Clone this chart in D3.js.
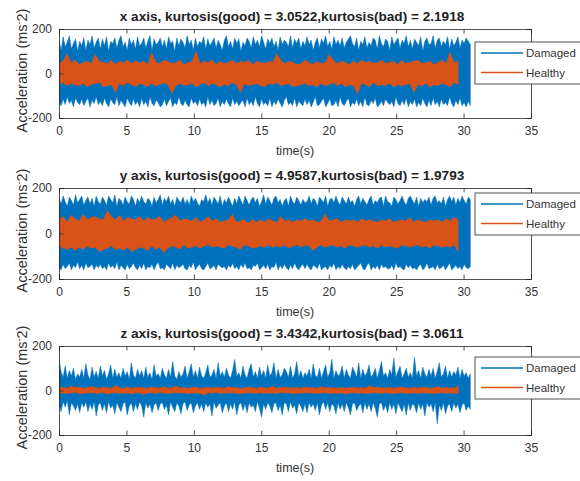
<!DOCTYPE html>
<html><head><meta charset="utf-8">
<script src="https://cdn.jsdelivr.net/npm/d3@7"></script>
<style>body{margin:0;background:#fff}svg{display:block}text{font-family:"Liberation Sans",Arial,sans-serif}</style>
</head><body><svg id="c" width="580" height="481"></svg>
<script>
// ---------- data ----------
// Each signal array lists successive (peak, trough) pairs of the dense vibration trace.
const titles = [
  "x axis, kurtosis(good) = 3.0522,kurtosis(bad) = 2.1918",
  "y axis, kurtosis(good) = 4.9587,kurtosis(bad) = 1.9793",
  "z axis, kurtosis(good) = 3.4342,kurtosis(bad) = 3.0611"
];
const seriesNames = ["Damaged", "Healthy"];
const xTicks = [0, 5, 10, 15, 20, 25, 30, 35];
const yTicks = [-200, 0, 200];
const damagedDuration = 30.5;   // s
const healthyDuration = 29.6;   // s

const damagedX = [
150,-130,105,-145,165,-115,120,-140,140,-105,170,-135,110,-120,135,-150,155,-110,100,-130,
145,-140,125,-115,160,-145,105,-125,150,-110,130,-150,170,-120,115,-135,140,-105,160,-140,
110,-125,155,-145,125,-110,165,-135,100,-150,145,-115,135,-130,160,-140,115,-105,150,-145,
170,-120,120,-135,140,-150,105,-110,160,-130,130,-145,150,-115,110,-140,165,-125,125,-150,
135,-110,160,-140,115,-125,145,-150,170,-105,105,-135,155,-145,130,-120,140,-130,160,-150,
120,-140,150,-115,110,-145,165,-125,135,-110,145,-150,100,-130,160,-140,125,-105,155,-135,
140,-145,115,-120,170,-140,130,-150,150,-110,105,-135,160,-125,120,-145,145,-115,135,-140,
165,-130,110,-150,155,-105,125,-140,140,-120,160,-145,115,-135,150,-110,130,-150,105,-125,
150,-140,170,-115,120,-135,145,-150,110,-110,160,-140,135,-125,155,-145,100,-130,140,-120,
125,-150,160,-110,145,-140,115,-125,165,-145,130,-105,150,-135,120,-150,170,-115,140,-140,
110,-130,155,-145,135,-110,160,-150,120,-125,145,-140,105,-115,165,-135,130,-150,150,-120,
140,-105,120,-140,170,-130,115,-145,155,-110,135,-150,160,-125,110,-135,145,-145,125,-115,
165,-140,130,-120,150,-150,105,-130,140,-105,160,-145,115,-140,155,-125,135,-110,170,-150,
120,-135,145,-115,110,-145,165,-140,130,-120,150,-150,125,-105,160,-135,115,-145,140,-125,
155,-110,170,-150,135,-130,120,-140,160,-115,105,-145,145,-125,130,-150,165,-105,115,-140,
140,-145,125,-120,160,-135,150,-110,110,-150,170,-140,135,-125,120,-145,155,-115,145,-130,
105,-140,165,-125,130,-150,145,-105,160,-135,115,-145,150,-120,135,-140,170,-110,120,-150,
150,-125,110,-140,155,-115,140,-150,125,-130,165,-145,100,-110,145,-135,160,-150,130,-120,
135,-145,170,-110,115,-140,150,-125,160,-150,120,-115,145,-140,130,-130,165,-145,110,-105,
155,-135,125,-150,140,-120,165,-140,115,-110,150,-145,135,-130,160,-150,145,-125,130,-145];

const healthyX = [45,-50,55,-40,90,-55,50,-45,60,-50,40,-55,50,-45,55,-60,45,-50,85,-45,
55,-40,50,-60,45,-55,60,-50,40,-85,55,-45,50,-55,60,-40,45,-50,55,-60,
50,-45,55,-50,40,-60,95,-45,50,-55,45,-50,60,-40,55,-50,45,-90,50,-55,
60,-45,40,-55,50,-50,55,-45,100,-60,45,-50,55,-40,50,-55,60,-45,40,-50,
55,-60,45,-50,50,-55,60,-40,45,-50,55,-85,50,-45,60,-55,40,-50,55,-45,
50,-55,45,-60,55,-45,50,-50,90,-40,60,-55,45,-50,55,-45,50,-60,40,-55,
45,-50,60,-45,50,-55,40,-50,55,-60,45,-45,50,-55,85,-50,60,-40,45,-55,
55,-45,50,-60,40,-50,55,-55,45,-90,60,-45,50,-50,55,-60,45,-40,50,-55,
60,-50,45,-55,50,-45,55,-60,40,-50,60,-55,45,-50,50,-45,55,-85,60,-50,
45,-55,50,-45,55,-60,40,-50,50,-55,60,-45,45,-50,95,-60,50,-40,55,-50];

const damagedY = [
155,-150,130,-160,165,-135,140,-155,120,-145,160,-130,145,-160,125,-140,170,-150,135,-125,
150,-155,165,-140,125,-160,145,-130,160,-150,130,-145,155,-135,120,-160,165,-140,140,-150,
130,-135,160,-155,145,-145,125,-160,165,-130,150,-150,135,-140,170,-155,120,-125,155,-160,
145,-140,125,-150,160,-160,140,-135,130,-155,165,-145,150,-130,120,-150,155,-160,135,-140,
165,-155,140,-130,130,-160,155,-145,145,-150,120,-135,160,-160,135,-140,150,-125,170,-155,
125,-150,155,-160,140,-135,165,-145,130,-155,150,-130,120,-160,160,-140,145,-150,135,-145,
160,-135,130,-155,150,-160,125,-140,165,-150,140,-125,155,-160,135,-145,120,-135,150,-155,
140,-160,170,-145,135,-130,155,-155,125,-150,160,-140,145,-160,130,-135,165,-145,120,-150,
150,-145,135,-160,160,-140,140,-150,120,-130,155,-155,130,-145,165,-160,145,-135,125,-150,
165,-130,145,-155,125,-150,150,-160,160,-140,135,-145,155,-130,120,-160,140,-150,170,-140,
130,-155,160,-135,145,-160,125,-145,155,-150,165,-125,135,-160,150,-140,120,-155,145,-135,
155,-150,120,-160,165,-140,140,-155,130,-130,160,-150,145,-160,125,-145,150,-135,135,-155,
140,-135,165,-150,130,-160,155,-140,145,-145,120,-155,160,-130,150,-160,135,-150,165,-145,
120,-160,150,-140,155,-150,135,-130,165,-160,140,-145,125,-155,160,-135,145,-150,130,-160,
160,-145,135,-155,145,-135,120,-160,150,-150,165,-140,130,-130,155,-155,140,-160,125,-140,
150,-130,165,-160,125,-145,145,-155,135,-140,155,-160,160,-135,120,-150,165,-145,140,-155,
135,-155,120,-140,160,-160,150,-130,130,-150,145,-145,165,-155,140,-160,125,-135,155,-150,
165,-140,145,-155,130,-150,160,-160,120,-145,155,-135,135,-160,150,-150,140,-130,160,-155,
125,-150,155,-145,165,-160,135,-135,145,-155,130,-150,160,-140,120,-160,150,-145,165,-130,
140,-160,160,-150,125,-140,155,-155,135,-145,165,-160,145,-135,130,-150,160,-155,150,-145];

const healthyY = [60,-55,75,-65,50,-70,80,-60,65,-75,55,-60,85,-70,60,-55,70,-65,75,-60,
65,-80,60,-70,100,-65,75,-55,60,-70,80,-65,55,-75,70,-60,65,-80,60,-70,
75,-60,55,-65,70,-75,60,-55,65,-70,75,-60,50,-85,60,-65,70,-55,80,-60,
55,-70,65,-50,60,-65,55,-60,70,-55,50,-65,60,-55,75,-50,55,-60,65,-55,
50,-60,55,-65,60,-50,85,-55,50,-60,55,-70,60,-50,45,-55,60,-65,50,-60,
60,-55,50,-60,65,-50,55,-60,50,-55,75,-60,55,-50,60,-65,50,-55,60,-50,
55,-60,65,-50,55,-55,60,-75,50,-60,55,-50,85,-60,55,-55,60,-50,65,-60,
50,-55,60,-65,55,-50,60,-55,50,-60,65,-55,55,-50,60,-60,55,-55,50,-65,
60,-50,55,-60,65,-55,50,-60,55,-65,60,-50,55,-55,70,-60,50,-55,60,-50,
55,-60,50,-55,60,-65,55,-50,60,-55,50,-60,65,-55,55,-60,70,-50,60,-80];

const damagedZ = [
140,-60,85,-95,60,-50,110,-75,55,-45,90,-110,65,-55,100,-70,50,-90,75,-60,
60,-100,95,-55,55,-75,120,-50,70,-95,50,-60,105,-85,60,-50,85,-115,55,-65,
110,-55,65,-90,90,-60,50,-100,75,-50,115,-80,55,-65,95,-105,60,-55,80,-75,
55,-95,100,-60,65,-50,85,-110,50,-70,125,-55,70,-95,55,-60,95,-85,65,-50,
90,-70,55,-120,105,-55,60,-80,80,-60,50,-100,115,-65,65,-55,75,-90,55,-60,
100,-55,70,-85,55,-65,95,-110,60,-50,130,-75,65,-95,50,-55,85,-70,60,-105,
75,-60,110,-50,55,-90,85,-65,120,-55,60,-100,90,-70,55,-55,105,-85,65,-60,
55,-95,80,-55,115,-75,60,-60,70,-115,95,-50,55,-80,125,-65,65,-55,85,-100,
60,-70,100,-55,70,-95,55,-60,90,-85,140,-50,65,-110,80,-65,55,-55,110,-90,
70,-60,55,-100,95,-55,120,-75,60,-65,85,-95,55,-50,105,-80,65,-120,90,-60,
55,-85,115,-55,65,-70,80,-100,125,-60,55,-55,95,-90,60,-65,70,-110,100,-55,
85,-60,60,-95,110,-50,55,-80,75,-65,130,-105,60,-55,90,-70,55,-95,80,-60,
65,-100,95,-55,55,-75,120,-60,70,-90,60,-55,100,-110,55,-65,85,-50,115,-85,
60,-55,80,-95,140,-60,55,-70,90,-105,65,-55,75,-85,110,-60,55,-95,95,-55,
70,-75,55,-110,105,-60,85,-55,60,-90,125,-70,55,-60,95,-100,65,-55,80,-85,
115,-60,60,-95,75,-55,100,-80,55,-120,90,-60,130,-55,65,-90,80,-65,55,-100,
95,-55,70,-85,145,-60,60,-105,85,-55,110,-75,55,-95,75,-60,100,-110,60,-55,
80,-90,55,-60,150,-70,65,-100,90,-55,55,-85,105,-60,75,-115,60,-55,95,-75,
65,-60,100,-95,55,-55,85,-150,125,-65,60,-90,75,-55,110,-105,55,-70,90,-60,
60,-95,85,-55,70,-80,105,-60,55,-100,95,-65,65,-55,80,-90,55,-70,75,-85];

const healthyZ = [12,-10,15,-12,9,-14,20,-11,13,-9,16,-13,10,-15,12,-11,18,-10,14,-12,
10,-13,15,-9,12,-16,11,-12,22,-10,13,-14,9,-11,16,-12,10,-15,13,-10,
14,-11,12,-18,10,-12,15,-10,13,-13,11,-9,17,-12,10,-14,12,-11,20,-10,
11,-12,14,-10,9,-15,13,-11,16,-12,10,-13,12,-20,14,-10,11,-12,15,-9,
13,-14,10,-11,18,-12,12,-10,14,-13,9,-15,11,-12,16,-10,13,-11,10,-14,
15,-10,12,-13,11,-12,20,-11,10,-14,13,-9,15,-12,12,-10,11,-16,14,-12,
10,-12,16,-11,13,-10,12,-14,9,-13,18,-12,11,-10,14,-15,12,-11,10,-13,
14,-11,10,-16,12,-12,15,-10,11,-13,13,-11,10,-14,22,-12,12,-10,16,-11,
12,-13,11,-10,14,-12,10,-15,13,-11,16,-10,12,-13,9,-12,15,-11,11,-14,
13,-10,15,-12,10,-11,12,-14,18,-12,11,-10,14,-13,12,-11,10,-12,20,-15];

// ---------- layout ----------
const colors = ["#0072BD", "#D95319"];
const panels = [
  {title: titles[0], top: 29,  bottom: 118, legTop: 42,  dmg: damagedX, hlt: healthyX},
  {title: titles[1], top: 188, bottom: 279, legTop: 193, dmg: damagedY, hlt: healthyY},
  {title: titles[2], top: 346, bottom: 435, legTop: 357, dmg: damagedZ, hlt: healthyZ}
];
const left = 59, right = 531;
const svg = d3.select("#c");
const x = d3.scaleLinear().domain([0, 35]).range([left, right]);
const axisCol = "#262626";
const textCol = "#333";

// peak/trough pairs -> envelope points (time, peak, trough)
const toEnv = (vals, dur) => {
  const n = vals.length / 2;
  return d3.range(n).map(k => ({t: dur * k / (n - 1), hi: vals[2 * k], lo: vals[2 * k + 1]}));
};

panels.forEach((p, pi) => {
  const y = d3.scaleLinear().domain([-200, 200]).range([p.bottom, p.top]);
  const g = svg.append("g");
  const clipId = "clip" + pi;
  svg.append("clipPath").attr("id", clipId).append("rect")
    .attr("x", left).attr("y", p.top).attr("width", right - left).attr("height", p.bottom - p.top);

  const area = d3.area().x(d => x(d.t)).y0(d => y(d.lo)).y1(d => y(d.hi));
  [[p.dmg, damagedDuration, colors[0]], [p.hlt, healthyDuration, colors[1]]].forEach(([vals, dur, col]) => {
    g.append("path").datum(toEnv(vals, dur)).attr("d", area)
      .attr("fill", col).attr("stroke", col).attr("stroke-width", 0.5)
      .attr("stroke-linejoin", "miter").attr("clip-path", `url(#${clipId})`);
  });

  // axes (MATLAB-style box with inward ticks)
  const tl = 4.5;
  const bottomAx = d3.axisBottom(x).tickValues(xTicks).tickSize(-tl).tickPadding(8).tickFormat(d3.format("d"));
  const topAx = d3.axisTop(x).tickValues(xTicks).tickSize(-tl).tickFormat("");
  const leftAx = d3.axisLeft(y).tickValues(yTicks).tickSize(-tl).tickPadding(7).tickFormat(d => d);
  const rightAx = d3.axisRight(y).tickValues(yTicks).tickSize(-tl).tickFormat("");
  const styleAx = sel => {
    sel.selectAll(".domain").attr("stroke", axisCol).attr("stroke-width", 0.8);
    sel.selectAll(".tick line").attr("stroke", axisCol).attr("stroke-width", 0.8);
    sel.selectAll("text").attr("fill", textCol).attr("font-size", 12)
      .style("font-family", '"Liberation Sans",Arial,sans-serif');
  };
  svg.append("g").attr("transform", `translate(0,${p.bottom})`).call(bottomAx).call(styleAx);
  svg.append("g").attr("transform", `translate(0,${p.top})`).call(topAx).call(styleAx);
  svg.append("g").attr("transform", `translate(${left},0)`).call(leftAx).call(styleAx);
  svg.append("g").attr("transform", `translate(${right},0)`).call(rightAx).call(styleAx);

  // title
  svg.append("text").attr("x", (left + right) / 2 - 3).attr("y", p.top - 8)
    .attr("text-anchor", "middle").attr("font-size", 13.6).attr("font-weight", "bold")
    .attr("fill", "#222").text(p.title);
  // x label
  svg.append("text").attr("x", (left + right) / 2).attr("y", p.bottom + 37)
    .attr("text-anchor", "middle").attr("font-size", 12.5).attr("fill", textCol).text("time(s)");
  // y label
  const yl = svg.append("text")
    .attr("transform", `translate(27,${(p.top + p.bottom) / 2 - 3}) rotate(-90)`)
    .attr("text-anchor", "middle").attr("font-size", 14.5).attr("fill", textCol);
  yl.append("tspan").text("Acceleration (ms");
  yl.append("tspan").attr("baseline-shift", "super").attr("font-size", 9).text("-");
  yl.append("tspan").text("2)");

  // legend
  const lg = svg.append("g").attr("transform", `translate(475,${p.legTop})`);
  lg.append("rect").attr("x", 0).attr("y", 0).attr("width", 110).attr("height", 42)
    .attr("fill", "#fff").attr("stroke", axisCol).attr("stroke-width", 0.8);
  seriesNames.forEach((nm, i) => {
    const yy = 11 + i * 19.5;
    lg.append("line").attr("x1", 6).attr("x2", 48).attr("y1", yy).attr("y2", yy)
      .attr("stroke", colors[i]).attr("stroke-width", 1.3);
    lg.append("text").attr("x", 51).attr("y", yy + 4).attr("font-size", 11.5)
      .attr("fill", textCol).text(nm);
  });
});
</script></body></html>
